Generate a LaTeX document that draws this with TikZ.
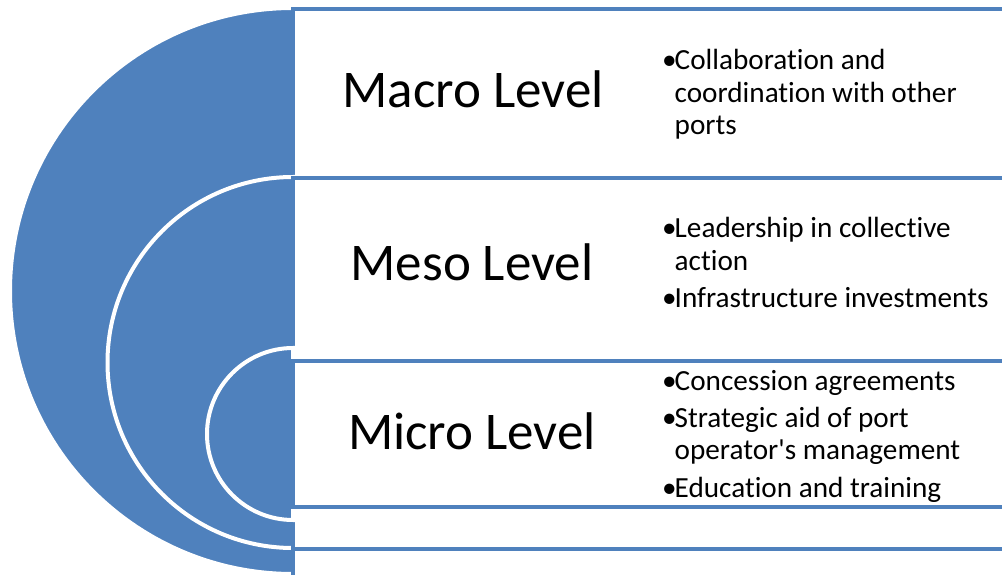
\documentclass[tikz,border=0pt]{standalone}
\usepackage{fontspec}
\setmainfont[Ligatures={NoCommon,NoContextual}]{Carlito}
\definecolor{levelblue}{HTML}{4F81BD}
\newcommand{\blt}{\makebox[12.5pt][l]{\textbullet}}
\begin{document}
\begin{tikzpicture}[x=1pt,y=1pt,
  halfdisc/.style={fill=levelblue, draw=white, line width=4pt},
  levelbox/.style={fill=white, draw=levelblue, line width=4pt},
  levelname/.style={anchor=base, inner sep=0pt, font=\fontsize{53}{60}\selectfont},
  levelitems/.style={anchor=base west, inner sep=0pt, font=\fontsize{29.2}{32.5}\selectfont}]
\useasboundingbox (0,0) rectangle (1002,574);
\clip (0,0) rectangle (1002,574);
\draw[halfdisc] (293,566) arc[start angle=90, end angle=270, radius=283] -- cycle;
\draw[levelbox] (293,565) rectangle (1020,-10);
\draw[halfdisc] (293,397) arc[start angle=90, end angle=270, radius=185.5] -- cycle;
\draw[levelbox] (293,396) rectangle (1020,25);
\draw[halfdisc] (293,226) arc[start angle=90, end angle=270, radius=86] -- cycle;
\draw[levelbox] (293,213) rectangle (1020,67.5);
\node[levelname] (macro) at (473,466) {Macro Level};
\node[levelname] (meso) at (472,294) {Meso Level};
\node[levelname] (micro) at (472,125) {Micro Level};
\node[levelitems] (macroitems) at (662,504) {\begin{tabular}[t]{@{}l@{}l@{}}
  \blt & Collaboration and\\
  & coordination with other\\
  & ports
\end{tabular}};
\node[levelitems] (mesoitems) at (662,336) {\begin{tabular}[t]{@{}l@{}l@{}}
  \blt & Leadership in collective\\
  & action\\[5pt]
  \blt & Infrastructure investments
\end{tabular}};
\node[levelitems] (microitems) at (662,184) {\begin{tabular}[t]{@{}l@{}l@{}}
  \blt & Concession agreements\\[5pt]
  \blt & Strategic aid of port\\
  & operator\textquotesingle s management\\[5pt]
  \blt & Education and training
\end{tabular}};
\end{tikzpicture}
\end{document}
